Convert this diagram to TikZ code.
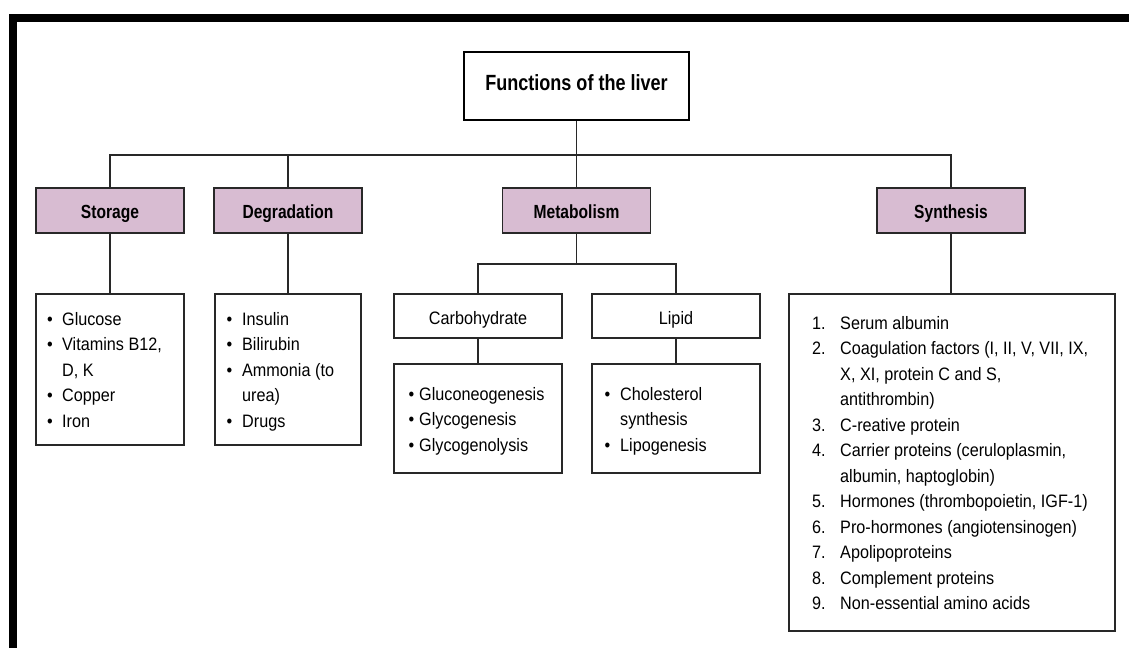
\documentclass[tikz,border=0pt]{standalone}
\usepackage{fontspec}
\setmainfont{Liberation Sans}[FakeStretch=0.9, BoldFeatures={FakeStretch=0.82}]
\definecolor{lilac}{RGB}{216,188,210}
\definecolor{ink}{RGB}{40,40,40}

% fixed-width marker cells for the lists
\newcommand\mkbul[1]{\makebox[#1][l]{\textbullet}}
\newcommand\mknum[1]{\makebox[28pt][l]{#1.}}
\newcommand\gap{\hspace*{28pt}}

\begin{document}
\begin{tikzpicture}[x=1pt,y=-1pt,
  frame/.style={draw=ink, line width=1.4pt, inner sep=0pt},
  headbox/.style={frame, fill=lilac, minimum width=148pt, minimum height=45pt,
    text height=17pt, text depth=2pt,
    font=\fontsize{19}{22}\selectfont\bfseries},
  subbox/.style={frame, fill=white, minimum width=168pt, minimum height=44pt,
    text height=18pt, text depth=2pt,
    font=\fontsize{18}{22}\selectfont},
  listtext/.style={inner sep=0pt, anchor=base west,
    font=\fontsize{18}{25.5}\selectfont},
  conn/.style={draw=ink, line width=1.3pt}]

\useasboundingbox (0,0) rectangle (1129,648);

% heavy page frame, top and left edges
\fill[black] (9,14) rectangle (1129,22);
\fill[black] (9,14) rectangle (17,648);

% root
\node[frame, draw=black, minimum width=225pt, minimum height=68pt,
  text height=16pt, text depth=8pt,
  font=\fontsize{22}{26}\selectfont\bfseries] (title) at (576.5,86) {Functions of the liver};

% main categories
\node[headbox] (storage) at (110,210.5) {Storage};
\node[headbox] (degr)    at (288,210.5) {Degradation};
\node[headbox] (metab)   at (576.5,210.5) {Metabolism};
\node[headbox] (synth)   at (951,210.5) {Synthesis};

% content boxes
\node[frame, minimum width=148pt, minimum height=151pt] (storlist) at (110,369.5) {};
\node[frame, minimum width=146pt, minimum height=151pt] (degrlist) at (288,369.5) {};
\node[subbox] (carb)  at (478,316) {Carbohydrate};
\node[subbox] (lipid) at (676,316) {Lipid};
\node[frame, minimum width=168pt, minimum height=109pt] (carblist)  at (478,418.5) {};
\node[frame, minimum width=168pt, minimum height=109pt] (lipidlist) at (676,418.5) {};
\node[frame, minimum width=326pt, minimum height=337pt] (synlist) at (952,462.5) {};

% list texts
\node[listtext] (stortext) at (47,325) {\begin{tabular}[t]{@{}l@{}}
  \mkbul{15pt}Glucose\\
  \mkbul{15pt}Vitamins B12,\\
  \hspace*{15pt}D, K\\
  \mkbul{15pt}Copper\\
  \mkbul{15pt}Iron
\end{tabular}};
\node[listtext] (degrtext) at (226.5,325) {\begin{tabular}[t]{@{}l@{}}
  \mkbul{15.5pt}Insulin\\
  \mkbul{15.5pt}Bilirubin\\
  \mkbul{15.5pt}Ammonia (to\\
  \hspace*{15.5pt}urea)\\
  \mkbul{15.5pt}Drugs
\end{tabular}};
\node[listtext] (carbtext) at (408.5,400) {\begin{tabular}[t]{@{}l@{}}
  \mkbul{10.5pt}Gluconeogenesis\\
  \mkbul{10.5pt}Glycogenesis\\
  \mkbul{10.5pt}Glycogenolysis
\end{tabular}};
\node[listtext] (lipidtext) at (604.5,400) {\begin{tabular}[t]{@{}l@{}}
  \mkbul{15.5pt}Cholesterol\\
  \hspace*{15.5pt}synthesis\\
  \mkbul{15.5pt}Lipogenesis
\end{tabular}};
\node[listtext] (syntext) at (812,329) {\begin{tabular}[t]{@{}l@{}}
  \mknum{1}Serum albumin\\
  \mknum{2}Coagulation factors (I, II, V, VII, IX,\\
  \gap X, XI, protein C and S,\\
  \gap antithrombin)\\
  \mknum{3}C-reative protein\\
  \mknum{4}Carrier proteins (ceruloplasmin,\\
  \gap albumin, haptoglobin)\\
  \mknum{5}Hormones (thrombopoietin, IGF-1)\\
  \mknum{6}Pro-hormones (angiotensinogen)\\
  \mknum{7}Apolipoproteins\\
  \mknum{8}Complement proteins\\
  \mknum{9}Non-essential amino acids
\end{tabular}};

% tree connectors
\coordinate (bus) at (0,155);
\coordinate (mbus) at (0,264);
\draw[conn] (title.south) -- (metab.north);
\draw[conn] (storage.north) -- (storage.north |- bus) -- (synth.north |- bus) -- (synth.north);
\draw[conn] (degr.north) -- (degr.north |- bus);
\draw[conn] (storage.south) -- (storlist.north);
\draw[conn] (degr.south) -- (degrlist.north);
\draw[conn] (synth.south) -- (synth.south |- synlist.north);
\draw[conn] (metab.south) -- (metab.south |- mbus);
\draw[conn] (carb.north) -- (carb.north |- mbus) -- (lipid.north |- mbus) -- (lipid.north);
\draw[conn] (carb.south) -- (carblist.north);
\draw[conn] (lipid.south) -- (lipidlist.north);
\end{tikzpicture}
\end{document}
